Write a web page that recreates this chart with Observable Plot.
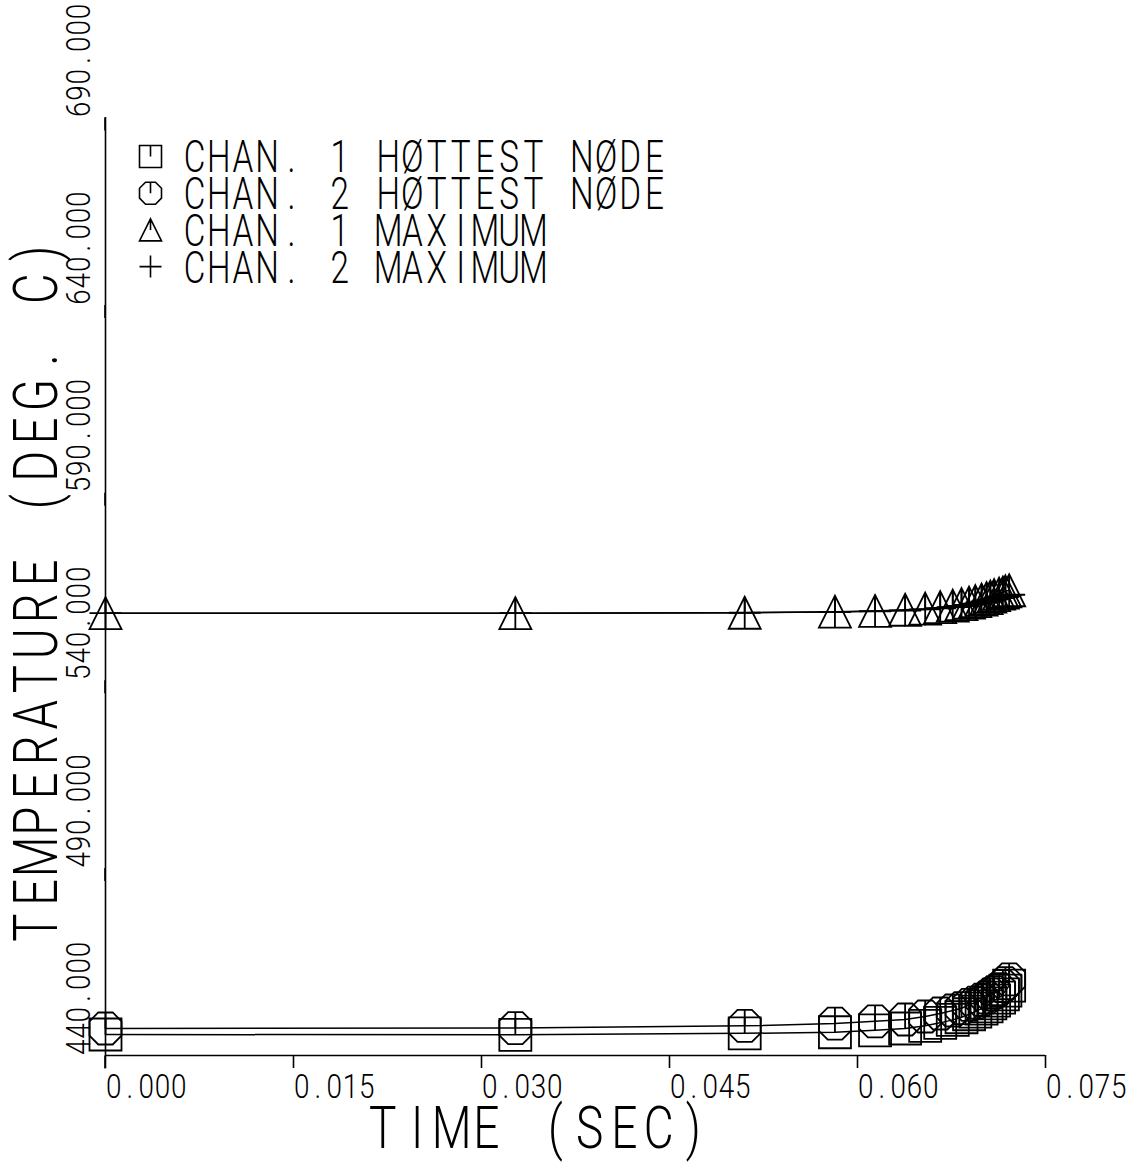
<!DOCTYPE html>
<html>
<head>
<meta charset="utf-8">
<script src="https://cdn.jsdelivr.net/npm/d3@7"></script>
<script src="https://cdn.jsdelivr.net/npm/@observablehq/plot@0.6"></script>
<style>
  html, body { margin: 0; padding: 0; background: #fff; }
</style>
</head>
<body>
<div id="chart"></div>
<script>
// Transient temperatures, channels 1 and 2
const timeSec = [0, 0.0327, 0.0510, 0.0582, 0.0614, 0.0638, 0.0654, 0.0666, 0.0676, 0.0683,
                 0.0689, 0.0694, 0.0699, 0.0703, 0.0706, 0.0709, 0.0713, 0.0716, 0.0718, 0.0721];
const chan1Hottest = [445.6, 445.5, 445.9, 446.2, 446.7, 447.2, 447.9, 448.7, 449.5, 450.2,
                      451.0, 451.7, 452.5, 453.1, 453.9, 454.6, 455.4, 456.3, 457.3, 458.6];
const chan2Hottest = [447.2, 447.3, 447.9, 448.5, 449.1, 449.6, 450.4, 451.2, 452.0, 452.6,
                      453.5, 454.1, 454.9, 455.5, 456.3, 456.9, 457.7, 458.5, 459.3, 460.3];
const chan1Max = [557.9, 557.9, 558.0, 558.3, 558.5, 558.8, 559.1, 559.5, 559.9, 560.3,
                  560.7, 561.1, 561.5, 561.9, 562.3, 562.7, 563.1, 563.4, 563.7, 564.0];
const chan2Max = [557.9, 557.9, 558.0, 558.2, 558.4, 558.6, 558.9, 559.2, 559.5, 559.8,
                  560.1, 560.4, 560.7, 561.0, 561.3, 561.6, 561.9, 562.2, 562.5, 562.8];
const seriesLabels = ["CHAN. 1 HØTTEST NØDE", "CHAN. 2 HØTTEST NØDE", "CHAN. 1 MAXIMUM", "CHAN. 2 MAXIMUM"];
const xTicks = [0, 0.015, 0.030, 0.045, 0.060, 0.075];
const yTicks = [440, 490, 540, 590, 640, 690];
const xTitle = "TIME (SEC)";
const yTitle = "TEMPERATURE (DEG. C)";

// Pen-plotter symbols; the outlined ones carry a stroke from the centre to the top edge
const radiusOf = (size) => Math.sqrt(size / Math.PI);
const squareTick = {
  draw(ctx, size) {
    const r = radiusOf(size);
    ctx.moveTo(-r, -r); ctx.lineTo(r, -r); ctx.lineTo(r, r); ctx.lineTo(-r, r); ctx.closePath();
    ctx.moveTo(0, 0); ctx.lineTo(0, -r);
  }
};
const octagonTick = {
  draw(ctx, size) {
    const r = radiusOf(size), a = r * 0.45;
    ctx.moveTo(-a, -r); ctx.lineTo(a, -r); ctx.lineTo(r, -a); ctx.lineTo(r, a);
    ctx.lineTo(a, r); ctx.lineTo(-a, r); ctx.lineTo(-r, a); ctx.lineTo(-r, -a); ctx.closePath();
    ctx.moveTo(0, 0); ctx.lineTo(0, -r);
  }
};
const triangleTick = {
  draw(ctx, size) {
    const r = radiusOf(size);
    ctx.moveTo(0, -r); ctx.lineTo(r, r); ctx.lineTo(-r, r); ctx.closePath();
    ctx.moveTo(0, 0); ctx.lineTo(0, -r);
  }
};
const plusMark = {
  draw(ctx, size) {
    const r = radiusOf(size);
    ctx.moveTo(-r, 0); ctx.lineTo(r, 0);
    ctx.moveTo(0, -r); ctx.lineTo(0, r);
  }
};

const seriesValues = [chan1Hottest, chan2Hottest, chan1Max, chan2Max];
const seriesSymbols = [squareTick, octagonTick, triangleTick, plusMark];
const seriesRows = seriesValues.map((vals, s) =>
  vals.map((v, i) => ({time: timeSec[i], temp: v, series: seriesLabels[s]})));

const font = {fontFamily: "Roboto, 'DejaVu Sans', sans-serif", fontWeight: 300, fill: "black"};
const fmt = d3.format(".3f");

const chart = Plot.plot({
  width: 1135,
  height: 1162,
  marginLeft: 105,
  marginRight: 90,
  marginTop: 117,
  marginBottom: 107,
  style: {background: "white", color: "black"},
  x: {domain: [xTicks[0], xTicks[xTicks.length - 1]]},
  y: {domain: [yTicks[0], yTicks[yTicks.length - 1]]},
  marks: [
    // axis lines
    Plot.ruleY([yTicks[0]], {x1: xTicks[0], x2: xTicks[xTicks.length - 1], stroke: "black", strokeWidth: 1.6}),
    Plot.ruleX([xTicks[0]], {y1: yTicks[0], y2: yTicks[yTicks.length - 1], stroke: "black", strokeWidth: 1.6}),
    Plot.axisX(xTicks, {
      anchor: "bottom", tickSize: 13, tickPadding: 5, tickFormat: fmt, label: null,
      textAnchor: "start", fontSize: 34, strokeWidth: 1.6, ...font
    }),
    Plot.axisY(yTicks, {
      anchor: "left", tickSize: 13, tickPadding: 3, tickFormat: fmt, label: null,
      rotate: -90, textAnchor: "start", lineAnchor: "bottom", fontSize: 34, strokeWidth: 1.6, ...font
    }),
    // curves and their markers
    ...seriesRows.map((rows) => Plot.line(rows, {x: "time", y: "temp", stroke: "black", strokeWidth: 1.5})),
    ...seriesRows.map((rows, s) => Plot.dot(rows, {
      x: "time", y: "temp", symbol: seriesSymbols[s], r: 16, stroke: "black", strokeWidth: 1.8, fill: "none"
    })),
    // legend
    ...seriesLabels.map((label, i) => Plot.dot([label], {
      frameAnchor: "top-left", dx: 45, dy: 39 + i * 36.7, symbol: seriesSymbols[i], r: 11,
      stroke: "black", strokeWidth: 1.6, fill: "none"
    })),
    ...seriesLabels.map((label, i) => Plot.text([label], {
      frameAnchor: "top-left", dx: 77, dy: 23 + i * 36.7, text: (d) => d,
      textAnchor: "start", lineAnchor: "top", fontSize: 45, ...font
    })),
    // axis titles
    Plot.text([xTitle], {
      frameAnchor: "bottom", dx: -37.5, dy: 92, text: (d) => d,
      textAnchor: "middle", lineAnchor: "bottom", fontSize: 59, ...font
    }),
    Plot.text([yTitle], {
      frameAnchor: "left", dx: -49, dy: 4, rotate: -90, text: (d) => d,
      textAnchor: "middle", lineAnchor: "bottom", fontSize: 62, ...font
    })
  ]
});

document.getElementById("chart").appendChild(chart);

// Lay the lettering out on a fixed character pitch, like a plotter's stroke font
const tickPitch = {cell: 16.3, sx: 0.82};
const legendPitch = {cell: 24.2, sx: 0.74};
function pitchFor(t) {
  const g = t.closest("g[aria-label]");
  const kind = g ? g.getAttribute("aria-label") : "";
  const s = t.textContent;
  if (kind === "x-axis tick label" || kind === "y-axis tick label") return tickPitch;
  if (seriesLabels.includes(s)) return legendPitch;
  if (s === xTitle) return {cell: 34.5, sx: 0.78};
  if (s === yTitle) return {cell: 35.5, sx: 0.76};
  return null;
}
function monospace(t, {cell, sx}) {
  const chars = [...t.textContent];
  const n = chars.length;
  const anchor = getComputedStyle(t).textAnchor;
  const offset = anchor === "middle" ? n / 2 : anchor === "end" ? n : 0;
  const xs = chars.map((_, i) => ((i + 0.5 - offset) * cell / sx).toFixed(2));
  const tr = t.getAttribute("transform") || "";
  t.setAttribute("transform", `${tr} scale(${sx},1)`);
  t.setAttribute("x", xs.join(" "));
  t.setAttribute("text-anchor", "middle");
}
chart.querySelectorAll("text").forEach((t) => {
  const spec = pitchFor(t);
  if (spec) monospace(t, spec);
});
</script>
</body>
</html>
